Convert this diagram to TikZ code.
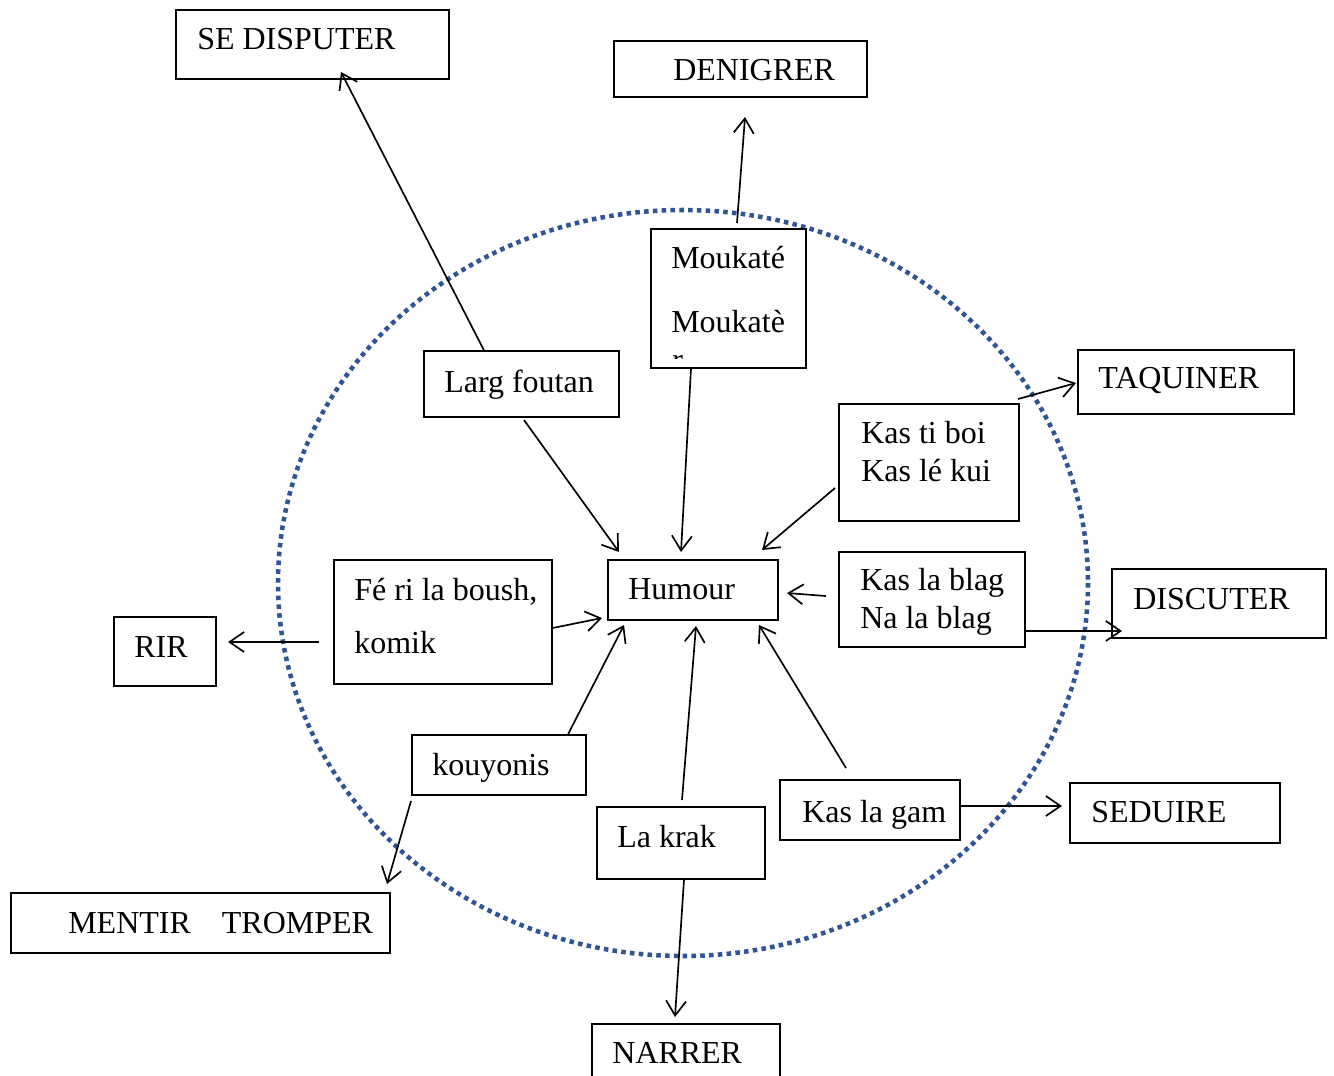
\documentclass[tikz,border=0pt]{standalone}
\usepackage{fontspec}
\setmainfont{Liberation Serif}
\usetikzlibrary{arrows.meta,fit}
\definecolor{dotblue}{HTML}{2F5597}
\begin{document}
\begin{tikzpicture}[x=0.75pt,y=-0.75pt,
  box/.style={draw=black,line width=1pt,inner sep=0pt,rectangle},
  txt/.style={inner sep=0pt,anchor=base west,font=\fontsize{24}{28}\selectfont},
  arr/.style={line width=1.25pt,-{Straight Barb[length=11pt,width=15pt,line width=1.25pt]}}]
\useasboundingbox (0,0) rectangle (1334,1075);
\fill[white] (0,0) rectangle (1334,1075);
% dotted ellipse
\draw[dotblue,line width=3.4pt,dash pattern=on 3.4pt off 3.2pt] (683,583) ellipse [x radius=405, y radius=373];
% boxes
\node[box,fit={(176,10) (449,79)}] (sedisp) {};
\node[box,fit={(614,41) (867,97)}] (denig) {};
\node[box,fill=white,fit={(651,229) (806,368)}] (mouk) {};
\node[box,fit={(1078,350) (1294,414)}] (taq) {};
\node[box,fill=white,fit={(424,351) (619,417)}] (larg) {};
\node[box,fill=white,fit={(839,404) (1019,521)}] (kasti) {};
\node[box,fill=white,fit={(608,560) (778,620)}] (humour) {};
\node[box,fill=white,fit={(839,552) (1025,647)}] (blag) {};
\node[box,fill=white,fit={(1112,569) (1326,638)}] (discut) {};
\node[box,fit={(114,617) (216,686)}] (rir) {};
\node[box,fill=white,fit={(334,560) (552,684)}] (feri) {};
\node[box,fill=white,fit={(412,735) (586,795)}] (kouy) {};
\node[box,fill=white,fit={(597,807) (765,879)}] (krak) {};
\node[box,fill=white,fit={(780,780) (960,840)}] (gam) {};
\node[box,fit={(1070,783) (1280,843)}] (sedui) {};
\node[box,fit={(11,893) (390,953)}] (mentir) {};
\node[box,fit={(592,1024) (780,1110)}] (narrer) {};
% texts
\node[txt] (t-sedisp) at (197,49) {SE DISPUTER};
\node[txt] (t-denig) at (673,80) {DENIGRER};
\node[txt] (t-mouk1) at (671,268) {Moukaté};
\node[txt] (t-mouk2) at (671,332) {Moukatè};
\begin{scope}
\clip (651,229) rectangle (806,358.5);
\node[txt] (t-mouk3) at (672,370) {r};
\end{scope}
\node[txt] (t-taq) at (1098,388) {TAQUINER};
\node[txt] (t-larg) at (444,392) {Larg foutan};
\node[txt] (t-kasti1) at (861,443) {Kas ti boi};
\node[txt] (t-kasti2) at (861,481) {Kas lé kui};
\node[txt] (t-humour) at (628,599) {Humour};
\node[txt] (t-blag1) at (860,590) {Kas la blag};
\node[txt] (t-blag2) at (860,628) {Na la blag};
\node[txt] (t-discut) at (1133,609) {DISCUTER};
\node[txt] (t-rir) at (134,657) {RIR};
\node[txt] (t-feri1) at (354,600) {Fé ri la boush,};
\node[txt] (t-feri2) at (354,653) {komik};
\node[txt] (t-kouy) at (432,775) {kouyonis};
\node[txt] (t-krak) at (617,847) {La krak};
\node[txt] (t-gam) at (802,822) {Kas la gam};
\node[txt] (t-sedui) at (1091,822) {SEDUIRE};
\node[txt] (t-mentir) at (68,933) {MENTIR\hspace{23.25pt}TROMPER};
\node[txt] (t-narrer) at (612,1063) {NARRER};
% connector end points
\coordinate (s1) at (484,0 |- larg.north);   \coordinate (e1) at (341,72);
\coordinate (s2) at (737,223);               \coordinate (e2) at (745,117);
\coordinate (s3) at (691,0 |- mouk.south);   \coordinate (e3) at (681,552);
\coordinate (s4) at (524,420);               \coordinate (e4) at (619,552);
\coordinate (s5) at (835,488);               \coordinate (e5) at (762,550);
\coordinate (s6) at (826,596);               \coordinate (e6) at (787,593);
\coordinate (s7) at (feri.east |- 0,628);    \coordinate (e7) at (602,618);
\coordinate (s8) at (568,0 |- kouy.north);   \coordinate (e8) at (624,625);
\coordinate (s9) at (682,800);               \coordinate (e9) at (696,626);
\coordinate (s10) at (846,768);              \coordinate (e10) at (759,625);
\coordinate (s11) at (319,642);              \coordinate (e11) at (228,642);
\coordinate (s12) at (411,801);              \coordinate (e12) at (387,884);
\coordinate (s13) at (684,0 |- krak.south);  \coordinate (e13) at (675,1017);
\coordinate (s14) at (gam.east |- 0,806);    \coordinate (e14) at (1062,806);
\coordinate (s15) at (blag.east |- 0,631);   \coordinate (e15) at (1122,631);
\coordinate (s16) at (1018,399);             \coordinate (e16) at (1076,383);
% connectors
\draw[arr] (s1) -- (e1);
\draw[arr] (s2) -- (e2);
\draw[arr] (s3) -- (e3);
\draw[arr] (s4) -- (e4);
\draw[arr] (s5) -- (e5);
\draw[arr] (s6) -- (e6);
\draw[arr] (s7) -- (e7);
\draw[arr] (s8) -- (e8);
\draw[arr] (s9) -- (e9);
\draw[arr] (s10) -- (e10);
\draw[arr] (s11) -- (e11);
\draw[arr] (s12) -- (e12);
\draw[arr] (s13) -- (e13);
\draw[arr] (s14) -- (e14);
\draw[arr] (s15) -- (e15);
\draw[arr] (s16) -- (e16);
\end{tikzpicture}
\end{document}
